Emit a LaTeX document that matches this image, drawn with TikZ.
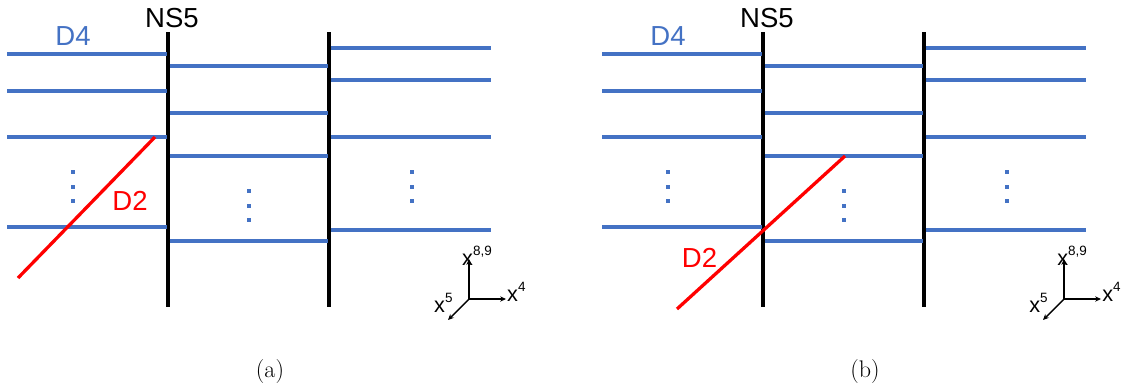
\documentclass[tikz,border=0pt]{standalone}
\usepackage{fontspec}
\newfontfamily\arialfont{Liberation Sans}
\usepackage{xcolor}
\usetikzlibrary{arrows.meta}
\definecolor{dfourblue}{RGB}{68,114,196}
\definecolor{dtwored}{RGB}{255,0,0}

\begin{document}
\begin{tikzpicture}[x=0.03cm,y=-0.03cm,
    nsfive/.style={line width=3pt,black},
    dfour/.style={line width=2.6pt,dfourblue},
    dtwo/.style={line width=2.8pt,dtwored},
    axis/.style={line width=1.2pt,-{Stealth[length=5pt,width=4.5pt]}},
    bigtext/.style={inner sep=0pt,font=\arialfont\fontsize{23.5}{26}\selectfont},
    axtext/.style={inner sep=0pt,anchor=base west,font=\arialfont\fontsize{18.5}{20}\selectfont},
    captext/.style={inner sep=0pt,font=\fontsize{20.5}{24}\selectfont}]
        \newcommand{\figaxsup}[1]{\raisebox{8pt}{\fontsize{11.5}{12}\selectfont #1}}
        \newcommand{\figdots}[2]{%
            \foreach \d in {0,14.5,29}
                \fill[dfourblue] (#1-2,#2+\d-2) rectangle ++(4,4);}
        \useasboundingbox (0,0) rectangle (1127,388);
        \foreach \s/\p in {0/a,595/b}{
            % NS5 branes
            \draw[nsfive] (\s+168,32) -- (\s+168,307);
            \draw[nsfive] (\s+329,32) -- (\s+329,307);
            \node[bigtext] (nsfive-\p) at (\s+172,18) {NS5};
            % D4 branes
            \foreach \y in {54,91,137,227}
                \draw[dfour] (\s+7,\y) -- (\s+166.5,\y);
            \foreach \y in {66,113,156,241}
                \draw[dfour] (\s+169.5,\y) -- (\s+327.5,\y);
            \foreach \y in {48,80,137,230}
                \draw[dfour] (\s+330.5,\y) -- (\s+491,\y);
            \node[bigtext,text=dfourblue] (dfour-\p) at (\s+73,36.5) {D4};
            \figdots{\s+73}{172}
            \figdots{\s+249}{191}
            \figdots{\s+412}{172}
            % axes
            \coordinate (ax-\p) at (\s+469,299);
            \draw[axis] (ax-\p) -- ++(0,-40);
            \draw[axis] (ax-\p) -- ++(37,0);
            \draw[axis] (ax-\p) -- ++(-21,21);
            \node[axtext] (xeight-\p) at (\s+462,265) {x\figaxsup{8,9}};
            \node[axtext] (xfour-\p) at (\s+507,301) {x\figaxsup{4}};
            \node[axtext] (xfive-\p) at (\s+434,312) {x\figaxsup{5}};
            \node[captext] (cap-\p) at (\s+270,371.5) {(\p)};
        }
        % D2 branes
        \coordinate (dtwo-a-lo) at (18,278);
        \coordinate (dtwo-a-hi) at (155,137);
        \draw[dtwo] (dtwo-a-lo) -- (dtwo-a-hi);
        \node[bigtext,text=dtwored] (dtwo-a) at (130,201) {D2};
        \coordinate (dtwo-b-lo) at (677,309);
        \coordinate (dtwo-b-hi) at (845,156);
        \draw[dtwo] (dtwo-b-lo) -- (dtwo-b-hi);
        \node[bigtext,text=dtwored] (dtwo-b) at (699.5,258) {D2};
    \end{tikzpicture}
\end{document}
